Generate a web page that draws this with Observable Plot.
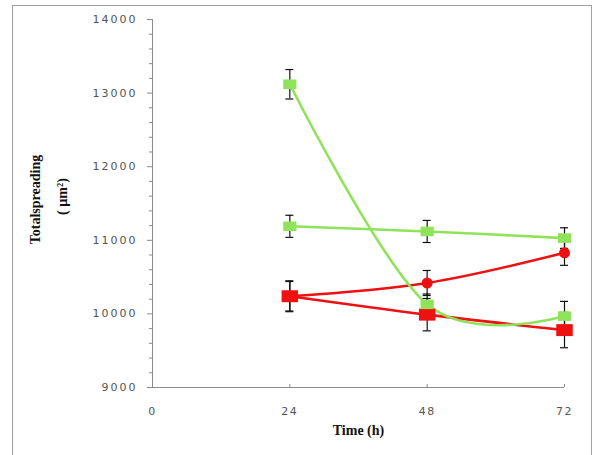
<!DOCTYPE html>
<html>
<head>
<meta charset="utf-8">
<script src="https://cdn.jsdelivr.net/npm/d3@7"></script>
<script src="https://cdn.jsdelivr.net/npm/@observablehq/plot@0.6"></script>
<style>
  html, body { margin: 0; padding: 0; background: #fff; }
  body { width: 597px; height: 455px; position: relative; overflow: hidden; }
  #frame { position: absolute; left: 12px; top: 5px; width: 580px; height: 460px; border: 1px solid #a0a0a0; box-sizing: border-box; }
  #chart { position: absolute; left: 0; top: 0; }
  g[aria-label="y-axis tick label"] text { letter-spacing: 2px; }
  g[aria-label="x-axis tick label"] text { letter-spacing: 1.5px; }
</style>
</head>
<body>
<div id="frame"></div>
<div id="chart"></div>
<script>
// ---- data ----
const times = [24, 48, 72];
const greenA = [13120, 10130, 9970];
const errGreenA = [200, 140, 200];
const greenB = [11190, 11120, 11030];
const errGreenB = [150, 150, 140];
const redCircle = [10240, 10420, 10830];
const errRedCircle = [210, 170, 170];
const redSquare = [10240, 9990, 9780];
const errRedSquare = [200, 220, 240];

const xTicks = [0, 24, 48, 72];
const yTicks = [9000, 10000, 11000, 12000, 13000, 14000];
const yMinor = [9200, 9400, 9600, 9800, 10200, 10400, 10600, 10800, 11200, 11400, 11600, 11800,
                12200, 12400, 12600, 12800, 13200, 13400, 13600, 13800];

const yTitle = "Totalspreading";
const yUnit = "( µm²)";
const xTitle = "Time (h)";

const GREEN = "#8fe35a";
const RED = "#ee1111";

function build(vals, errs, key) {
  return times.map((t, i) => ({t, v: vals[i], e: errs[i], key}));
}
const sGA = build(greenA, errGreenA, "GA");
const sGB = build(greenB, errGreenB, "GB");
const sRC = build(redCircle, errRedCircle, "RC");
const sRS = build(redSquare, errRedSquare, "RS");
const all = [...sRS, ...sRC, ...sGB, ...sGA];

const wideSquare = {
  draw(ctx, size) {
    const s = Math.sqrt(size);
    ctx.moveTo(-s * 0.62, -s * 0.45);
    ctx.lineTo(s * 0.62, -s * 0.45);
    ctx.lineTo(s * 0.62, s * 0.45);
    ctx.lineTo(-s * 0.62, s * 0.45);
    ctx.closePath();
  }
};

const axisColor = "#8a8a8a";
const serif = "Liberation Serif, Times New Roman, serif";

const chart = Plot.plot({
  width: 597,
  height: 455,
  marginLeft: 152,
  marginRight: 33,
  marginTop: 19,
  marginBottom: 68,
  style: {fontFamily: "DejaVu Sans, Verdana, sans-serif", fontSize: "11px", color: "#555", background: "transparent"},
  x: {domain: [0, 72], axis: null},
  y: {domain: [9000, 14000], axis: null},
  marks: [
    Plot.ruleX([0], {stroke: axisColor}),
    Plot.ruleY([9000], {stroke: axisColor}),
    Plot.axisY({ticks: yTicks, tickSize: 5, tickPadding: 10, tickFormat: d => String(d), stroke: axisColor, fill: "#555", label: null}),
    Plot.axisY({ticks: yMinor, tickSize: 3, tickFormat: () => "", stroke: axisColor, label: null}),
    Plot.ruleX(xTicks.slice(1), {x: d => d, y1: 9000, y2: 9000, insetTop: -3, stroke: axisColor}),
    Plot.axisX({ticks: xTicks, tickSize: 0, tickPadding: 20, tickFormat: d => String(d), fill: "#555", label: null}),
    // lines
    Plot.line(sRS, {x: "t", y: "v", stroke: RED, strokeWidth: 2.6, curve: "cardinal"}),
    Plot.line(sRC, {x: "t", y: "v", stroke: RED, strokeWidth: 2.6, curve: "cardinal"}),
    Plot.line(sGB, {x: "t", y: "v", stroke: GREEN, strokeWidth: 2.6, curve: "cardinal"}),
    Plot.line(sGA, {x: "t", y: "v", stroke: GREEN, strokeWidth: 2.6, curve: "cardinal"}),
    // error bars
    Plot.ruleX(all, {x: "t", y1: d => d.v - d.e, y2: d => d.v + d.e, stroke: "#111", strokeWidth: 1.2}),
    Plot.ruleY(all, {y: d => d.v + d.e, x1: "t", x2: "t", insetLeft: -4, insetRight: -4, stroke: "#111", strokeWidth: 1.2}),
    Plot.ruleY(all, {y: d => d.v - d.e, x1: "t", x2: "t", insetLeft: -4, insetRight: -4, stroke: "#111", strokeWidth: 1.2}),
    // markers
    Plot.dot(sRS, {x: "t", y: "v", symbol: wideSquare, r: 7.5, fill: RED, stroke: null}),
    Plot.dot(sRC, {x: "t", y: "v", symbol: "circle", r: 5.5, fill: RED, stroke: null}),
    Plot.dot(sGB, {x: "t", y: "v", symbol: wideSquare, r: 6, fill: GREEN, stroke: null}),
    Plot.dot(sGA, {x: "t", y: "v", symbol: wideSquare, r: 6, fill: GREEN, stroke: null}),
    // titles
    Plot.text([yTitle], {frameAnchor: "left", textAnchor: "middle", rotate: -90, dx: -117, dy: -4, text: d => d,
      fontFamily: serif, fontWeight: "bold", fontSize: 14, fill: "#111"}),
    Plot.text([yUnit], {frameAnchor: "left", textAnchor: "middle", rotate: -90, dx: -90, dy: -7, text: d => d,
      fontFamily: serif, fontWeight: "bold", fontSize: 14, fill: "#111", letterSpacing: 1}),
    Plot.text([xTitle], {frameAnchor: "bottom", dy: 47, text: d => d,
      fontFamily: serif, fontWeight: "bold", fontSize: 14, fill: "#111", letterSpacing: 1})
  ]
});
document.getElementById("chart").appendChild(chart);
</script>
</body>
</html>
